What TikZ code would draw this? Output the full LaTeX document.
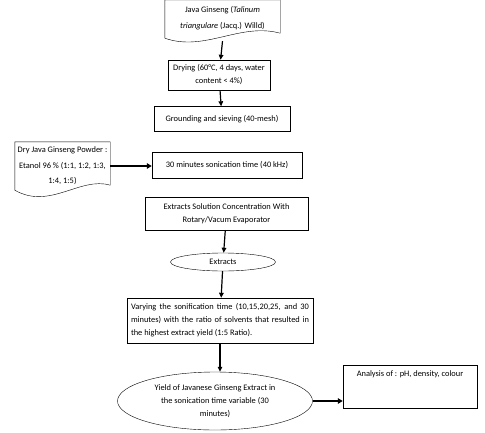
\documentclass[tikz,border=0pt]{standalone}
\usepackage{fontspec}
\setmainfont{Carlito}
\usetikzlibrary{arrows.meta,shapes.geometric}

\tikzset{
	txt/.style={font=\fontsize{8.4}{13}\selectfont},
	box/.style={txt, draw, rectangle, align=center, inner sep=4pt},
	docbox/.style={txt, align=center, inner sep=0pt},
	oval/.style={txt, draw, ellipse, align=center, inner sep=0pt},
	arr/.style={-{Triangle[length=5pt,width=4.5pt]}, line width=1.2pt},
	fatarr/.style={-{Triangle[length=5pt,width=5.5pt]}, line width=2.6pt},
}

\begin{document}
\begin{tikzpicture}[x=1pt, y=-1pt]
	\useasboundingbox (0,0) rectangle (485,432);
	% document shapes
	\node[docbox, minimum width=115pt, minimum height=36pt, font=\fontsize{8.4}{16}\selectfont] (plant) at (222.5,18) {Java Ginseng (\textit{Talinum}\\ \textit{triangulare} (Jacq.) Willd)};
	\draw (plant.north west) -- (plant.north east) -- ([yshift=3pt]plant.south east) .. controls ([xshift=-40pt,yshift=14pt]plant.south east) and ([xshift=40pt,yshift=-16pt]plant.south west) .. ([yshift=-2pt]plant.south west) -- cycle;
	\node[docbox, minimum width=95pt, minimum height=48pt, font=\fontsize{8.4}{15.5}\selectfont] (powder) at (62.5,166) {Dry Java Ginseng Powder :\\ Etanol 96 \% (1:1, 1:2, 1:3,\\ 1:4, 1:5)};
	\draw (powder.north west) -- (powder.north east) -- ([yshift=5pt]powder.south east) .. controls ([xshift=-30pt,yshift=14pt]powder.south east) and ([xshift=35pt,yshift=-20pt]powder.south west) .. (powder.south west) -- cycle;
	% process boxes
	\node[box, minimum width=102pt, minimum height=30pt] (drying) at (219,75) {Drying (60°C, 4 days, water\\ content < 4\%)};
	\node[box, minimum width=136pt, minimum height=25pt] (sieve) at (222,119) {Grounding and sieving (40-mesh)};
	\node[box, minimum width=150pt, minimum height=26pt] (sonic) at (227,165) {30 minutes sonication time (40 kHz)};
	\node[box, minimum width=163pt, minimum height=33pt] (evap) at (226.5,213.5) {Extracts Solution Concentration With\\ Rotary/Vacum Evaporator};
	\node[oval, minimum width=105pt, minimum height=18pt] (extract) at (223,262) {Extracts};
	\node[box, text width=178pt, minimum height=45pt, align=justify] (vary) at (220,320.5) {Varying the sonification time (10,15,20,25, and 30\linebreak minutes) with the ratio of solvents that resulted in\linebreak the highest extract yield (1:5 Ratio).};
	\node[oval, minimum width=195pt, minimum height=58pt] (yield) at (215,401) {Yield of Javanese Ginseng Extract in\\ the sonication time variable (30\\ minutes)};
	\node[box, minimum width=134pt, text height=7pt, text depth=28pt] (analysis) at (410,386.5) {Analysis of : pH, density, colour};
	% connectors
	\draw[arr] ([yshift=-5pt]plant.south) -- (drying);
	\draw[arr] (drying) -- (sieve);
	\draw[fatarr] (powder.east) -- (powder.east -| sonic.west);
	\draw[arr] (evap) -- (extract);
	\draw[arr] (extract) -- (vary);
	\draw[arr] (vary.south) -- (vary.south |- yield.north);
	\draw[fatarr] (yield.east) -- (yield.east -| analysis.west);
\end{tikzpicture}
\end{document}
